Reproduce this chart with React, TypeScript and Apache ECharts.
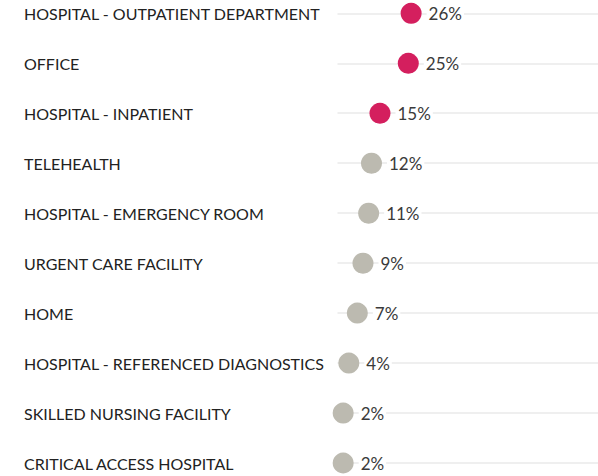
import React, { useEffect, useRef } from "react";
import * as echarts from "echarts";

const categories = [
  "HOSPITAL - OUTPATIENT DEPARTMENT",
  "OFFICE",
  "HOSPITAL - INPATIENT",
  "TELEHEALTH",
  "HOSPITAL - EMERGENCY ROOM",
  "URGENT CARE FACILITY",
  "HOME",
  "HOSPITAL - REFERENCED DIAGNOSTICS",
  "SKILLED NURSING FACILITY",
  "CRITICAL ACCESS HOSPITAL",
];
const values = [26, 25, 15, 12, 11, 9, 7, 4, 2, 2];
const highlightCount = 3;

export default function App() {
  const ref = useRef<HTMLDivElement>(null);
  useEffect(() => {
    const chart = echarts.init(ref.current!, null, { renderer: "svg" });
    chart.setOption({
      animation: false,
      grid: { left: 337.5, right: 0, top: 13.3, bottom: 13 },
      xAxis: {
        type: "value",
        min: 0,
        max: 92,
        show: false,
      },
      yAxis: {
        type: "category",
        data: categories,
        inverse: true,
        boundaryGap: false,
        axisLine: { show: false },
        axisTick: { show: false },
        splitLine: { show: true, lineStyle: { color: "#efefef", width: 2 } },
        axisLabel: {
          align: "left",
          margin: 313.5,
          color: "#222",
          fontFamily: "Lato",
          fontSize: 16,
        },
      },
      series: [
        {
          type: "scatter",
          symbolSize: 21,
          data: values.map((v, i) => ({
            value: v,
            itemStyle: {
              color: i < highlightCount ? "#d41f5e" : "#bcbab0",
              opacity: 1,
            },
          })),
          label: {
            show: true,
            position: "right",
            distance: 5,
            formatter: "{c}%",
            color: "#3a3a3a",
            fontFamily: "Lato",
            fontSize: 17,
            backgroundColor: "#fff",
            padding: [0, 2, 0, 2],
          },
        },
      ],
    });
    return () => chart.dispose();
  }, []);
  return <div ref={ref} style={{ width: 598, height: 476, position: "absolute", left: 0, top: 0 }} />;
}
